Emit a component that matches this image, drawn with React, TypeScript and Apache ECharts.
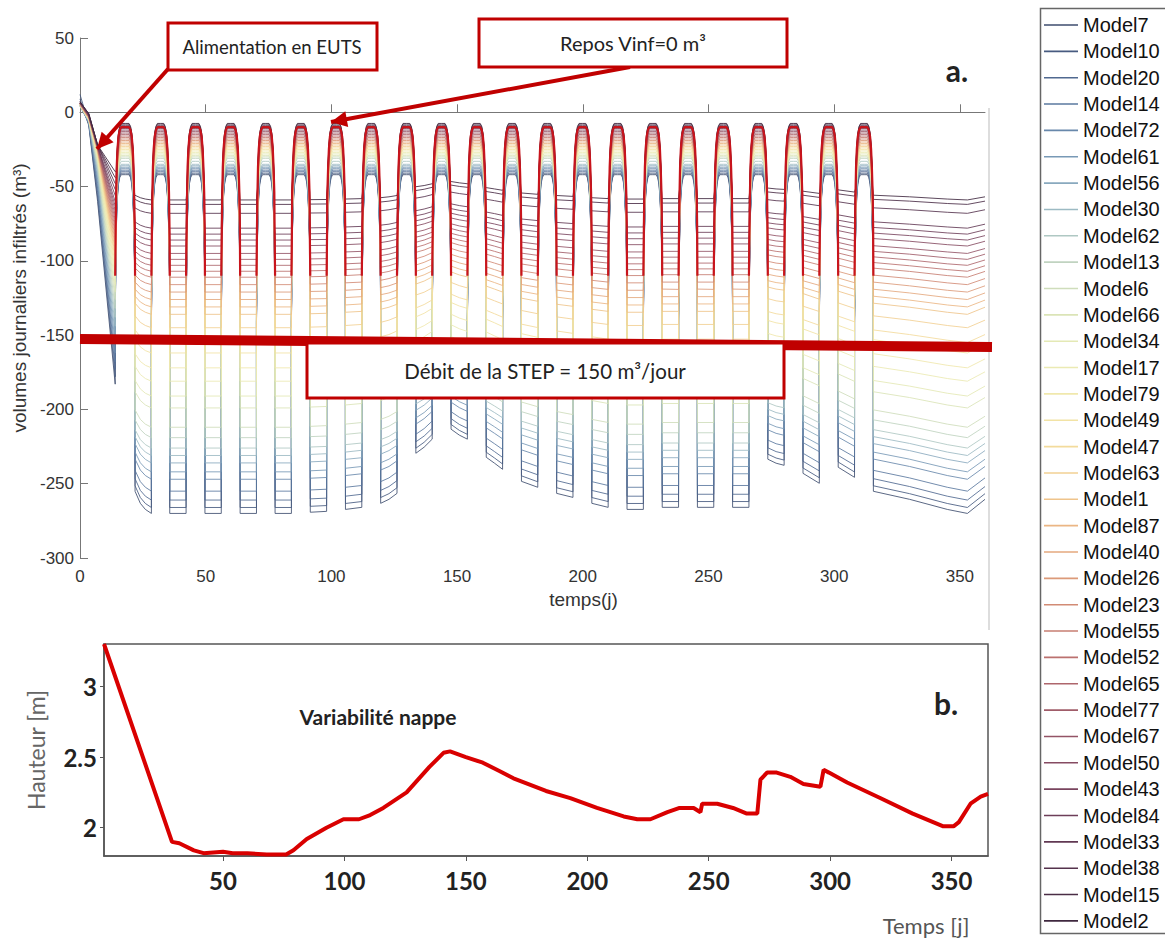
import React, { useEffect, useRef } from "react";
import * as echarts from "echarts";

// ---------- Data ----------
const modelNames = [
  "Model7", "Model10", "Model20", "Model14", "Model72", "Model61", "Model56", "Model30", "Model62",
  "Model13", "Model6", "Model66", "Model34", "Model17", "Model79", "Model49", "Model47", "Model63",
  "Model1", "Model87", "Model40", "Model26", "Model23", "Model55", "Model52", "Model65", "Model77",
  "Model67", "Model50", "Model43", "Model84", "Model33", "Model38", "Model15", "Model2",
];

const modelColors = [
  "#3e4d6e", "#475b80", "#506990", "#5a789f", "#6888ab", "#7899b6", "#89a9be", "#9cbac3", "#afc8c3",
  "#c0d3c0", "#cfddbb", "#dbe4b7", "#e4e9b5", "#ebeab3", "#f0e8ad", "#f2e3a5", "#f3db9c", "#f2d093",
  "#efc48b", "#ebb684", "#e4a87e", "#dc9a79", "#d28b75", "#c77e72", "#bb716f", "#ae666c", "#a05c69",
  "#935366", "#864b62", "#79445e", "#6d3e59", "#613853", "#55324d", "#4a2d46", "#3f283f",
];

// infiltration level during a normal feeding period (m3/day)
const plateauLevels = [
  -270, -266, -261, -255, -247, -242, -236, -231, -226, -219, -212, -199, -191, -181, -172, -162, -155, -145,
  -136, -131, -126, -121, -116, -111, -107, -103, -99, -95, -90, -86, -82, -78, -68, -62, -59,
];

// level reached at the top of each rest period
const restLevels = [
  -42, -41, -40, -39, -38, -37, -36, -35, -33, -31, -30, -29, -28, -27, -26, -25, -24, -23,
  -22, -21, -20, -19, -18, -17, -16, -15, -14, -13, -12, -11, -10.5, -10, -9, -8, -7.5,
];

// initial descent (days 0, 3.5, 7, 14)
const fanStart = [9, 12, 6, 5, 5, 4, 4, 5, 5, 5, 4, 4, 5, 5, 5, 5, 5, 5, 5, 5, 5, 5, 6, 6, 6, 6, 6, 6, 6, 6, 7, 7, 7, 7, 7];
const fanEarly = [-9, -8, -8, -7, -7, -7, -6, -6, -6, -6, -5, -5, -5, -5, -5, -4, -4, -4, -4, -4, -4, -3, -3, -3, -3, -3, -3, -2, -2, -2, -2, -2, -1, -1, -1];
const fanMid = [-60, -57, -54, -51, -48, -45, -42, -40, -38, -36, -34, -32, -31, -30, -29, -28, -27, -27, -26, -26, -25, -25, -25, -24, -24, -24, -24, -23, -23, -23, -23, -22, -22, -22, -22];
const fanEnd = [-183, -178, -173, -168, -162, -156, -150, -144, -138, -132, -126, -121, -116, -111, -107, -103, -99, -96, -93, -90, -87, -84, -81, -78, -75, -72, -69, -66, -63, -60, -56, -52, -48, -44, -40];

// feeding periods: [day, relative depth] breakpoints
const feedBlocks: number[][][] = [
  [[21.9, 0.945], [24, 0.975], [26, 0.99], [28.4, 1.0]],
  [[35.7, 1], [42.2, 1]],
  [[49.7, 1], [56.2, 1]],
  [[63.7, 1], [70.2, 1]],
  [[77.6, 1], [84.1, 1]],
  [[91.6, 0.997], [98.1, 0.995]],
  [[105.6, 0.99], [112.1, 0.985]],
  [[119.6, 0.975], [122.9, 0.965], [126.1, 0.95]],
  [[133.6, 0.85], [136.9, 0.835], [140.1, 0.815]],
  [[147.6, 0.79], [150.9, 0.805], [154.1, 0.815]],
  [[161.6, 0.86], [164.9, 0.875], [168.1, 0.89]],
  [[175.6, 0.92], [182.1, 0.935]],
  [[189.6, 0.95], [196.1, 0.96]],
  [[203.6, 0.975], [210.1, 0.985]],
  [[217.6, 0.99], [224.1, 0.99]],
  [[231.6, 0.985], [238.1, 0.985]],
  [[245.6, 0.985], [252.1, 0.985]],
  [[259.6, 0.985], [266.1, 0.985]],
  [[273.6, 0.865], [276.9, 0.875], [280.1, 0.88]],
  [[287.6, 0.9], [294.1, 0.925]],
  [[301.6, 0.885], [308.1, 0.91]],
  [[315.6, 0.945], [330, 0.965], [345, 0.99], [353, 1.0], [360, 0.965]],
];

// shape of a rest arch: [days from the edge of the rest period, drop below the rest level]
const archShape = [[0, -100], [0.15, -68], [0.35, -44], [0.6, -27], [0.9, -15], [1.3, -6.5], [1.8, -2], [2.4, 0]];
const envelopeLevel = -10;
const envelopeFloor = -135;

// water table height (b)
const nappeDays = [1, 29, 32, 38, 42, 50, 54, 60, 68, 76, 79, 84.5, 92.6, 99.6, 106, 110.6, 116, 125.6, 135, 140.8, 143.5, 150, 157, 164, 169.6, 183, 193, 204, 215, 220.6, 226, 233, 238, 243.8, 246.6, 247.3, 253.5, 260, 265.7, 270, 271.3, 274, 278, 283.6, 289, 296, 297.3, 299.5, 307, 320.6, 334, 346.6, 350.8, 353, 357.8, 362, 365];
const nappeHeights = [3.30, 1.90, 1.89, 1.84, 1.82, 1.83, 1.82, 1.82, 1.81, 1.81, 1.84, 1.92, 2.0, 2.06, 2.06, 2.09, 2.14, 2.25, 2.43, 2.53, 2.54, 2.50, 2.46, 2.40, 2.35, 2.26, 2.21, 2.14, 2.08, 2.06, 2.06, 2.11, 2.14, 2.14, 2.11, 2.17, 2.17, 2.14, 2.10, 2.10, 2.34, 2.39, 2.39, 2.36, 2.31, 2.29, 2.41, 2.39, 2.32, 2.21, 2.10, 2.01, 2.01, 2.04, 2.17, 2.22, 2.24];

const topXTicks = [0, 50, 100, 150, 200, 250, 300, 350];
const botXTicks = [50, 100, 150, 200, 250, 300, 350];
const botYTicks = [2, 2.5, 3];

// ---------- helpers ----------
const r1 = (v: number) => Math.round(v * 10) / 10;

function addRest(pts: any[], e: number, lv: number, s: number, rv: number, R: number) {
  const half = (s - e) / 2;
  for (const [u, drop] of archShape) {
    if (u >= half) break;
    pts.push([r1(e + u), r1(Math.max(lv, R + drop))]);
  }
  pts.push([r1(e + half), R]);
  for (let j = archShape.length - 1; j >= 0; j--) {
    const [u, drop] = archShape[j];
    if (u >= half) continue;
    pts.push([r1(s - u), r1(Math.max(rv, R + drop))]);
  }
}

function buildModel(i: number) {
  const P = plateauLevels[i];
  const R = restLevels[i];
  const pts: any[] = [[0, fanStart[i]], [3.5, fanEarly[i]], [7, fanMid[i]], [14, fanEnd[i]]];
  let prevEnd = 14;
  let prevVal = fanEnd[i];
  for (const block of feedBlocks) {
    const s = block[0][0];
    const first = P * block[0][1];
    addRest(pts, prevEnd, prevVal, s, first, R);
    for (const [d, f] of block) pts.push([d, r1(P * f)]);
    const last = block[block.length - 1];
    prevEnd = last[0];
    prevVal = P * last[1];
  }
  return pts;
}

function buildEnvelope() {
  const pts: any[] = [];
  let prevEnd = 14;
  for (const block of feedBlocks) {
    addRest(pts, prevEnd, envelopeFloor, block[0][0], envelopeFloor, envelopeLevel);
    pts.push([block[0][0] + 0.01, "-"]);
    prevEnd = block[block.length - 1][0];
  }
  return pts;
}

function arrowHead(x1: number, y1: number, x2: number, y2: number, len: number, half: number) {
  const dx = x2 - x1, dy = y2 - y1;
  const L = Math.hypot(dx, dy);
  const ux = dx / L, uy = dy / L;
  const bx = x2 - ux * len, by = y2 - uy * len;
  return [[x2, y2], [bx - uy * half, by + ux * half], [bx + uy * half, by - ux * half]];
}

const RED = "#c00000";
const ARIAL = "Liberation Sans, Arial, sans-serif";
const CAL = "Lato, Open Sans, sans-serif";

export default function App() {
  const ref = useRef<HTMLDivElement>(null);
  useEffect(() => {
    if (!ref.current) return;
    const chart = echarts.init(ref.current, undefined, { renderer: "svg" });

    const modelSeries = modelNames.map((name, i) => ({
      name,
      type: "line",
      xAxisIndex: 0,
      yAxisIndex: 0,
      data: buildModel(i),
      symbol: "none",
      showSymbol: false,
      silent: true,
      lineStyle: { color: modelColors[i], width: 1, opacity: 0.85 },
      itemStyle: { color: modelColors[i] },
      z: 2,
    }));

    const a1 = { x1: 168, y1: 69, x2: 97, y2: 149 };
    const a2 = { x1: 630, y1: 67, x2: 331, y2: 122 };

    const option: any = {
      animation: false,
      backgroundColor: "#ffffff",
      grid: [
        { left: 80, top: 38, width: 905, height: 520, containLabel: false, outerBoundsMode: "none" },
        {
          left: 104, top: 644, width: 884, height: 212, containLabel: false, outerBoundsMode: "none",
          show: true, borderColor: "#555", borderWidth: 1.5, backgroundColor: "transparent",
        },
      ],
      xAxis: [
        {
          type: "value", gridIndex: 0, min: 0, max: 360,
          name: "temps(j)", nameLocation: "middle", nameGap: 32,
          nameTextStyle: { fontFamily: ARIAL, fontSize: 19, color: "#333", padding: [0, 0, 0, 102] },
          axisLine: { show: true, lineStyle: { color: "#777", width: 1 } },
          axisTick: { show: true, inside: true, length: 8, customValues: topXTicks, lineStyle: { color: "#777" } },
          axisLabel: { customValues: topXTicks, fontFamily: ARIAL, fontSize: 17, color: "#333", margin: 10 },
          splitLine: { show: false },
        },
        {
          type: "value", gridIndex: 1, min: 1, max: 365,
          axisLine: { show: true, lineStyle: { color: "#555", width: 1.5 } },
          axisTick: { show: true, inside: false, length: 5, customValues: botXTicks, lineStyle: { color: "#555" } },
          axisLabel: { customValues: botXTicks, fontFamily: CAL, fontSize: 24, fontWeight: "bold", color: "#222", margin: 12 },
          splitLine: { show: false },
        },
      ],
      yAxis: [
        {
          type: "value", gridIndex: 0, min: -300, max: 50, interval: 50,
          name: "volumes journaliers infiltrés (m³)", nameLocation: "middle", nameGap: 44, nameRotate: 90,
          nameTextStyle: { fontFamily: ARIAL, fontSize: 19, color: "#333" },
          axisLine: { show: true, lineStyle: { color: "#777", width: 1 } },
          axisTick: { show: true, inside: true, length: 8, lineStyle: { color: "#777" } },
          axisLabel: { fontFamily: ARIAL, fontSize: 17, color: "#333", margin: 6 },
          splitLine: { show: false },
        },
        {
          type: "value", gridIndex: 1, min: 1.8, max: 3.3,
          name: "Hauteur [m]", nameLocation: "middle", nameGap: 57, nameRotate: 90,
          nameTextStyle: { fontFamily: CAL, fontSize: 23, color: "#666" },
          axisLine: { show: true, lineStyle: { color: "#555", width: 1.5 } },
          axisTick: { show: true, inside: false, length: 4, customValues: botYTicks, lineStyle: { color: "#555" } },
          axisLabel: { customValues: botYTicks, fontFamily: CAL, fontSize: 24, fontWeight: "bold", color: "#222", margin: 7 },
          splitLine: { show: false },
        },
      ],
      legend: {
        data: modelNames,
        orient: "vertical",
        left: 1044,
        top: 15,
        padding: 0,
        icon: "path://M0,0 L34,0 L34,1.6 L0,1.6 Z",
        itemWidth: 34,
        itemHeight: 20,
        itemGap: 6.35,
        selectedMode: false,
        textStyle: { fontFamily: ARIAL, fontSize: 20, color: "#111", lineHeight: 20 },
      },
      series: [
        ...modelSeries,
        {
          name: "enveloppe",
          type: "line",
          xAxisIndex: 0,
          yAxisIndex: 0,
          data: buildEnvelope(),
          symbol: "none",
          silent: true,
          connectNulls: false,
          lineStyle: { color: "#c8141c", width: 2.2 },
          z: 3,
        },
        {
          name: "Variabilité nappe",
          type: "line",
          xAxisIndex: 1,
          yAxisIndex: 1,
          data: nappeDays.map((d, i) => [d, nappeHeights[i]]),
          symbol: "none",
          silent: true,
          lineStyle: { color: "#d90000", width: 4 },
          z: 3,
        },
      ],
      graphic: [
        // legend frame
        { type: "rect", z: 1, shape: { x: 1040.5, y: 8.5, width: 200, height: 925 }, style: { fill: "none", stroke: "#666", lineWidth: 1.5 } },
        // stray frame line at the right of panel a
        { type: "line", z: 1, shape: { x1: 989, y1: 108, x2: 989, y2: 630 }, style: { stroke: "#bbb", lineWidth: 1 } },
        // STEP flow line
        { type: "line", z: 100, shape: { x1: 80, y1: 339, x2: 992, y2: 347 }, style: { stroke: RED, lineWidth: 10 } },
        // box 3
        { type: "rect", z: 101, shape: { x: 307, y: 343, width: 477, height: 55 }, style: { fill: "#fff", stroke: RED, lineWidth: 3 } },
        { type: "text", z: 102, x: 545, y: 371, style: { text: "Débit de la STEP = 150 m³/jour", fontFamily: CAL, fontSize: 20.5, fill: "#222", align: "center", verticalAlign: "middle" } },
        // box 1 + arrow
        { type: "line", z: 100, shape: a1, style: { stroke: RED, lineWidth: 4 } },
        { type: "polygon", z: 100, shape: { points: arrowHead(a1.x1, a1.y1, a1.x2, a1.y2, 16, 8) }, style: { fill: RED } },
        { type: "rect", z: 101, shape: { x: 168, y: 23, width: 209, height: 47 }, style: { fill: "#fff", stroke: RED, lineWidth: 3 } },
        { type: "text", z: 102, x: 272, y: 47, style: { text: "Alimentation en EUTS", fontFamily: CAL, fontSize: 18.5, fill: "#222", align: "center", verticalAlign: "middle" } },
        // box 2 + arrow
        { type: "line", z: 100, shape: a2, style: { stroke: RED, lineWidth: 4 } },
        { type: "polygon", z: 100, shape: { points: arrowHead(a2.x1, a2.y1, a2.x2, a2.y2, 16, 8) }, style: { fill: RED } },
        { type: "rect", z: 101, shape: { x: 479, y: 19, width: 308, height: 48 }, style: { fill: "#fff", stroke: RED, lineWidth: 3 } },
        { type: "text", z: 102, x: 633, y: 43, style: { text: "Repos Vinf=0 m³", fontFamily: CAL, fontSize: 20, fill: "#222", align: "center", verticalAlign: "middle" } },
        // panel labels
        { type: "text", z: 102, x: 957, y: 70, style: { text: "a.", fontFamily: CAL, fontSize: 30, fontWeight: "bold", fill: "#222", align: "center", verticalAlign: "middle" } },
        { type: "text", z: 102, x: 946, y: 703, style: { text: "b.", fontFamily: CAL, fontSize: 30, fontWeight: "bold", fill: "#222", align: "center", verticalAlign: "middle" } },
        { type: "text", z: 102, x: 378, y: 716, style: { text: "Variabilité nappe", fontFamily: CAL, fontSize: 21, fontWeight: "bold", fill: "#222", align: "center", verticalAlign: "middle" } },
        { type: "text", z: 102, x: 926, y: 925, style: { text: "Temps [j]", fontFamily: CAL, fontSize: 22, fill: "#555", align: "center", verticalAlign: "middle" } },
      ],
    };

    chart.setOption(option);
    return () => chart.dispose();
  }, []);

  return <div ref={ref} style={{ position: "absolute", left: 0, top: 0, width: 1165, height: 938 }} />;
}
